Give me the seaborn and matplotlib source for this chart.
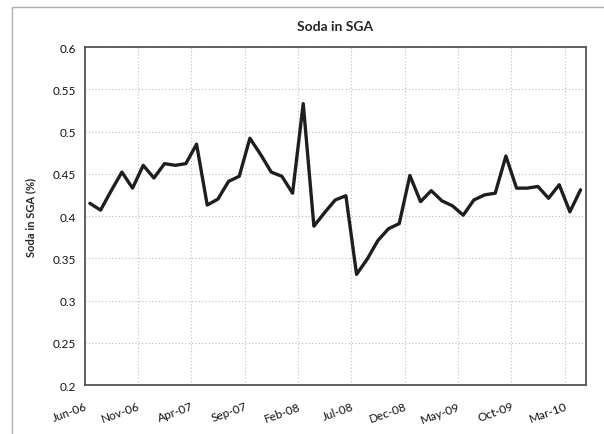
"""
Soda in SGA - monthly line chart recreated with seaborn
"""
import matplotlib
matplotlib.use("Agg")
import matplotlib.pyplot as plt
from matplotlib.patches import Rectangle
import numpy as np
import pandas as pd
import seaborn as sns

# Monthly values, Jun-06 .. Apr-10
months = [
    "Jun-06", "Jul-06", "Aug-06", "Sep-06", "Oct-06", "Nov-06", "Dec-06",
    "Jan-07", "Feb-07", "Mar-07", "Apr-07", "May-07", "Jun-07", "Jul-07",
    "Aug-07", "Sep-07", "Oct-07", "Nov-07", "Dec-07", "Jan-08", "Feb-08",
    "Mar-08", "Apr-08", "May-08", "Jun-08", "Jul-08", "Aug-08", "Sep-08",
    "Oct-08", "Nov-08", "Dec-08", "Jan-09", "Feb-09", "Mar-09", "Apr-09",
    "May-09", "Jun-09", "Jul-09", "Aug-09", "Sep-09", "Oct-09", "Nov-09",
    "Dec-09", "Jan-10", "Feb-10", "Mar-10", "Apr-10",
]
soda = [
    0.415, 0.407, 0.430, 0.452, 0.433, 0.460, 0.445,
    0.462, 0.460, 0.462, 0.485, 0.413, 0.420, 0.441,
    0.447, 0.492, 0.473, 0.452, 0.447, 0.427, 0.533,
    0.388, 0.404, 0.419, 0.424, 0.331, 0.349, 0.371,
    0.385, 0.391, 0.448, 0.417, 0.430, 0.418, 0.412,
    0.401, 0.419, 0.425, 0.427, 0.471, 0.433, 0.433,
    0.435, 0.421, 0.437, 0.405, 0.431,
]
y_ticks = [0.2, 0.25, 0.3, 0.35, 0.4, 0.45, 0.5, 0.55, 0.6]
label_every = 5

sns.set_style("white")
plt.rcParams["font.family"] = ["Lato", "DejaVu Sans"]

df = pd.DataFrame({"month": months, "soda": soda})
df["pos"] = np.arange(len(df)) + 0.5  # Excel places points between tick marks

fig = plt.figure(figsize=(6.04, 4.35), dpi=100)
ax = fig.add_axes([0.140, 0.1126, 0.830, 0.777])

# light outer chart border
fig.patches.append(Rectangle((0.02, -0.2), 1.2, 1.1816, transform=fig.transFigure,
                             fill=False, edgecolor="#b0b0b0", linewidth=1.0))

sns.lineplot(data=df, x="pos", y="soda", ax=ax, color="#1e1e1e", linewidth=2.4)

tick_idx = list(range(0, len(months), label_every))
ax.set_xlim(0, len(months))
ax.set_xticks(tick_idx)
ax.set_xticklabels([months[i] for i in tick_idx], rotation=20, ha="right",
                   rotation_mode="anchor", fontsize=8.5, color="#111111")
ax.set_ylim(0.2, 0.6)
ax.set_yticks(y_ticks)
ax.set_yticklabels([f"{v:g}" for v in y_ticks], fontsize=8.5, color="#111111")

ax.grid(True, linestyle=(0, (1, 2)), color="#bdbdbd", linewidth=0.8)
ax.tick_params(axis="both", length=3, width=0.8, color="#666666", pad=3)
ax.tick_params(axis="x", pad=8)
for side in ax.spines.values():
    side.set_color("#555555")
    side.set_linewidth(1.3)

ax.set_xlabel("")
ax.set_ylabel("Soda in SGA (%)", fontsize=8, fontweight="bold", labelpad=12)
fig.text(0.555, 0.938, "Soda in SGA", ha="center", va="center",
         fontsize=10, fontweight="bold")

plt.savefig("out.png", dpi=100)
plt.close()
